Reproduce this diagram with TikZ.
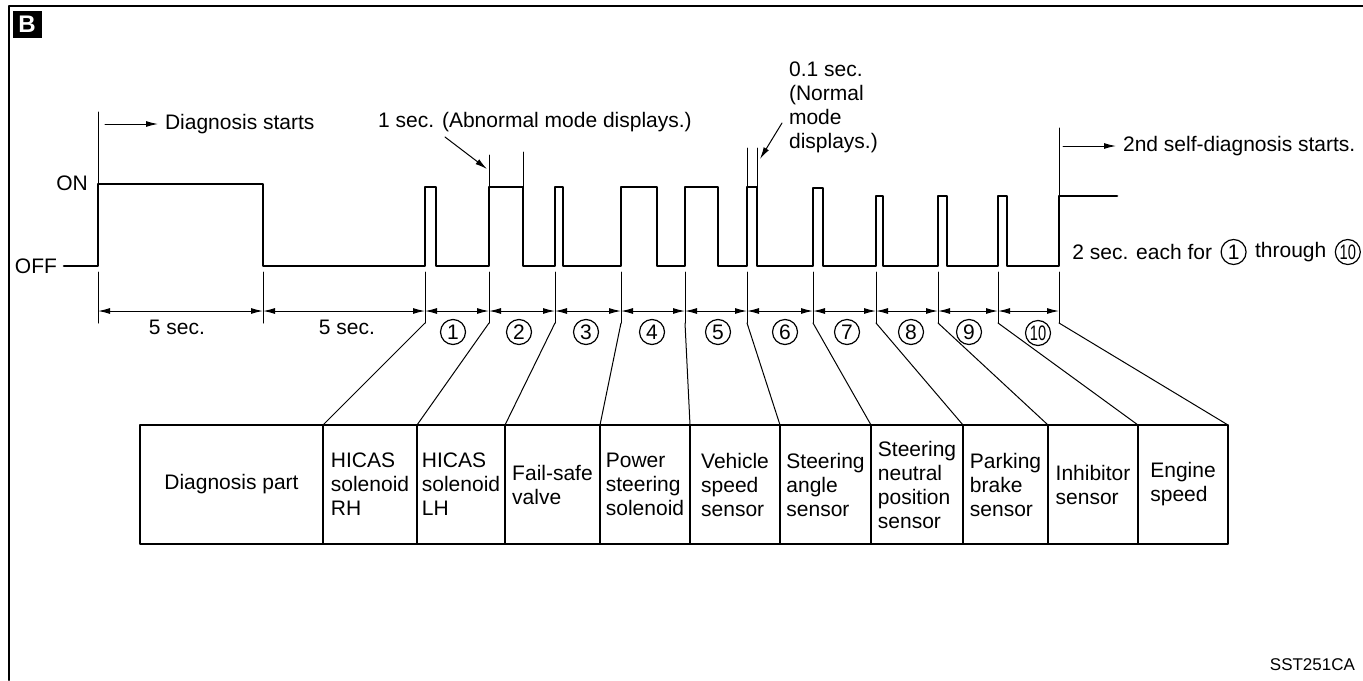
\documentclass[tikz,border=0pt]{standalone}
\usepackage{fontspec}
\setmainfont{Liberation Sans}
\usepackage{graphicx}
\usetikzlibrary{arrows.meta,positioning}
\begin{document}
\begin{tikzpicture}[line cap=round,line join=round,>={Latex[length=6pt,width=3pt]},
	font=\fontsize{10.5}{12}\selectfont,x=0.5pt,y=-0.5pt,
	wave/.style={line width=1.3pt},
	guide/.style={line width=0.5pt},
	dim/.style={<->,line width=0.5pt},
	num/.style={circle,draw,line width=0.6pt,minimum size=12.5pt,inner sep=0pt},
	cell/.style={draw,line width=0.7pt,anchor=north west,minimum height=59.5pt,align=left,inner sep=0pt,outer sep=0pt}]
	\useasboundingbox (0,0) rectangle (1363,680);
	% Khung và nhãn B
	\draw[line width=1pt] (9,680) -- (9,6) -- (1363,6);
	\node[fill=black,text=white,minimum width=14.5pt,minimum height=13.5pt,inner sep=0pt,
		font=\bfseries\fontsize{12}{12}\selectfont] (tag) at (27,24) {B};
	% Mức ON / OFF
	\node (on) at (72,183) {ON};
	\node[anchor=east] (off) at (64,266) {OFF};
	% Dạng sóng
	\draw[wave] (off.east) -| (98,184) -| (263,266) -| (425,187) -| (436,266)
		-| (489,187) -| (523,266) -| (555,187) -| (563,266) -| (621,187) -| (657,266)
		-| (685,187) -| (718,266) -| (747,187) -| (757,266) -| (813,188) -| (823,266)
		-| (876,196) -| (883,266) -| (938,196) -| (947,266) -| (998,196) -| (1007,266)
		-| (1059,196) -- (1117,196);
	% Các đường gióng phía trên
	\draw[guide] (98,112) -- (98,184);
	\draw[guide] (489,155) -- (489,187);
	\draw[guide] (523,152) -- (523,187);
	\draw[guide] (747,148) -- (747,187);
	\draw[guide] (757,148) -- (757,187);
	\draw[guide] (1059,128) -- (1059,196);
	% Các đường gióng phía dưới
	\foreach \x [count=\i] in {98,263,425,489,555,621,685,747,813,876,938,998,1059} {
		\coordinate (t\i) at (\x,311);
		\coordinate (b\i) at (\x,323);
		\draw[guide] (\x,272) -- (b\i);
	}
	% Đường kích thước
	\foreach \i [remember=\i as \k (initially 1)] in {2,...,13}
		\draw[dim] (t\k) -- (t\i);
	\node (s1) at (177,327) {5 sec.};
	\node (s2) at (347,327) {5 sec.};
	\foreach \n/\x in {1/453,2/519,3/586,4/652,5/718,6/785,7/847,8/911,9/969}
		\node[num] (n\n) at (\x,332) {\n};
	\node[num] (n10) at (1038,333) {\scalebox{0.7}[1]{10}};
	% Chú thích
	\coordinate (dsfrom) at (105,124);
	\node[anchor=west] (ds) at (158,124) {Diagnosis starts};
	\draw[->,guide] (dsfrom) -- (ds.west);
	\node (ab) at (535,122) {1 sec. (Abnormal mode displays.)};
	\draw[->,guide] (445,137) -- (487,169);
	\node[anchor=west,align=left] (nm) at (782,107) {0.1 sec.\\(Normal\\mode\\displays.)};
	\draw[->,guide] (782,123) -- (760,159);
	\coordinate (sdfrom) at (1063,146);
	\node[anchor=west] (sd) at (1116,146) {2nd self-diagnosis starts.};
	\draw[->,guide] (sdfrom) -- (sd.west);
	\node[anchor=west,inner sep=0pt] (each) at (1072,252) {2 sec. each for};
	\node[num,right=4pt of each] (e1) {1};
	\node[right=4pt of e1,inner sep=0pt] (thru) {through};
	\node[num,right=4pt of thru] (e10) {\scalebox{0.7}[1]{10}};
	% Bảng các hạng mục chẩn đoán
	\node[cell,minimum width=91.5pt] (c1) at (140,425) {Diagnosis part};
	\node[cell,minimum width=47pt] (c2) at (c1.north east) {HICAS\\solenoid\\RH};
	\node[cell,minimum width=44pt] (c3) at (c2.north east) {HICAS\\solenoid\\LH};
	\node[cell,minimum width=47.5pt] (c4) at (c3.north east) {Fail-safe\\valve};
	\node[cell,minimum width=45pt] (c5) at (c4.north east) {Power\\steering\\solenoid};
	\node[cell,minimum width=45pt] (c6) at (c5.north east) {Vehicle\\speed\\sensor};
	\node[cell,minimum width=45.5pt] (c7) at (c6.north east) {Steering\\angle\\sensor};
	\node[cell,minimum width=46pt] (c8) at (c7.north east) {Steering\\neutral\\position\\sensor};
	\node[cell,minimum width=42.5pt] (c9) at (c8.north east) {Parking\\brake\\sensor};
	\node[cell,minimum width=45pt] (c10) at (c9.north east) {Inhibitor\\sensor};
	\node[cell,minimum width=45pt] (c11) at (c10.north east) {Engine\\speed};
	% Đường nối xiên tới bảng
	\foreach \i/\c in {3/c2,4/c3,5/c4,6/c5,7/c6,8/c7,9/c8,10/c9,11/c10,12/c11}
		\draw[guide] (b\i) -- (\c.north west);
	\draw[guide] (b13) -- (c11.north east);
	% Mã hình
	\node[anchor=east,font=\fontsize{8.5}{10}\selectfont] (code) at (1362,665) {SST251CA};
\end{tikzpicture}
\end{document}
